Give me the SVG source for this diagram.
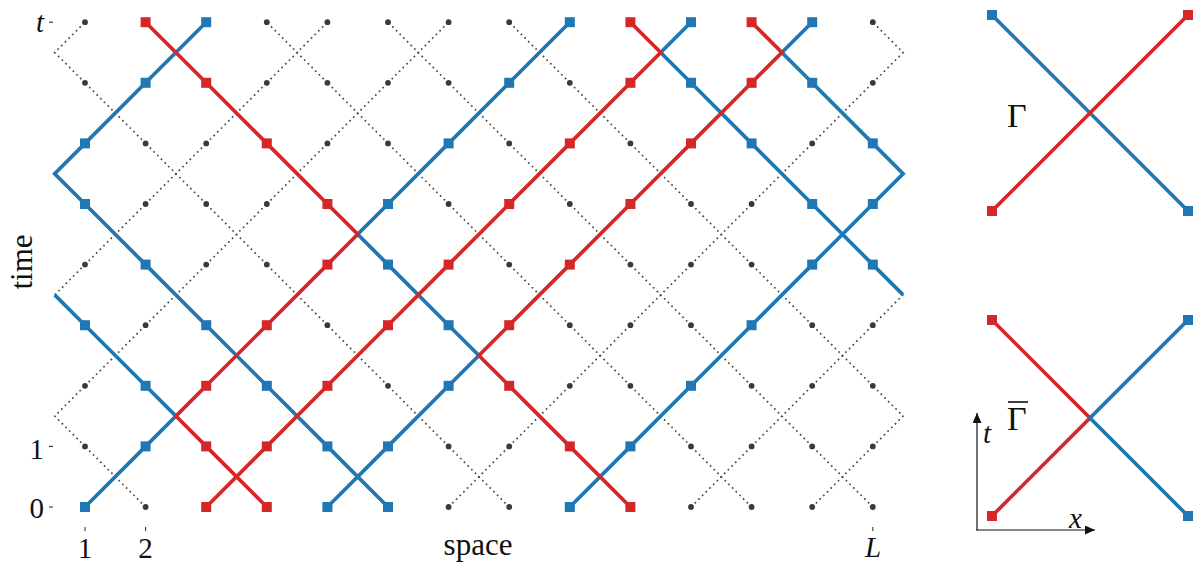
<svg xmlns="http://www.w3.org/2000/svg" xmlns:xlink="http://www.w3.org/1999/xlink" width="1195" height="567" viewBox="0 0 1195 567">
<defs>
<style>
.dot{fill:none;stroke:#4a4a4a;stroke-width:1.7;stroke-dasharray:1.7 3.5}
.bl{fill:none;stroke:#1f77b4;stroke-width:3.7}
.rd{fill:none;stroke:#d62728;stroke-width:3.7}
.ax{fill:none;stroke:#111;stroke-width:1.2}
.tk{stroke:#222;stroke-width:1}
.tx{font-family:"Liberation Serif","DejaVu Serif","Times New Roman",serif;fill:#111}
.lbl{font-size:29px}
.it{font-style:italic}
</style>
<rect id="sb" x="-5" y="-5" width="10" height="10" fill="#1f77b4"/>
<rect id="sr" x="-5" y="-5" width="10" height="10" fill="#d62728"/>
<circle id="gd" r="2.9" fill="#3a3a3a"/>
<marker id="ah" viewBox="0 0 10 9" refX="10" refY="4.5" markerWidth="10" markerHeight="9" markerUnits="userSpaceOnUse" orient="auto"><path d="M0 0L10 4.5L0 9z" fill="#111"/></marker>
</defs>
<rect width="1195" height="567" fill="#fff"/>

<g id="connectors">
<path class="dot" d="M145.6 507l-60.6-60.6M448.6 507l60.6-60.6M509.2 507l-60.6-60.6M691 507l60.6-60.6M751.6 507l-60.6-60.6M812.2 507l60.6-60.6M872.8 507l-60.6-60.6
M85 446.4l-30.3-30.3l30.3-30.3M448.6 446.4l-60.6-60.6M509.2 446.4l60.6-60.6M691 446.4l-60.6-60.6M751.6 446.4l60.6-60.6M812.2 446.4l-60.6-60.6M872.8 446.4l30.3-30.3l-30.3-30.3
M85 385.8l60.6-60.6M388 385.8l-60.6-60.6M569.8 385.8l60.6-60.6M630.4 385.8l-60.6-60.6M751.6 385.8l-60.6-60.6M812.2 385.8l60.6-60.6M872.8 385.8l-60.6-60.6
M54.7 294.9l30.3-30.3M145.6 325.2l60.6-60.6M327.4 325.2l-60.6-60.6M569.8 325.2l-60.6-60.6M630.4 325.2l60.6-60.6M691 325.2l-60.6-60.6M812.2 325.2l-60.6-60.6M872.8 325.2l30.3-30.3
M85 264.6l60.6-60.6M206.2 264.6l60.6-60.6M266.8 264.6l-60.6-60.6M509.2 264.6l-60.6-60.6M630.4 264.6l-60.6-60.6M691 264.6l60.6-60.6M751.6 264.6l-60.6-60.6
M145.6 204l60.6-60.6M206.2 204l-60.6-60.6M266.8 204l60.6-60.6M448.6 204l-60.6-60.6M569.8 204l-60.6-60.6M691 204l-60.6-60.6M751.6 204l60.6-60.6
M145.6 143.4l-60.6-60.6M206.2 143.4l60.6-60.6M327.4 143.4l60.6-60.6M388 143.4l-60.6-60.6M509.2 143.4l-60.6-60.6M630.4 143.4l-60.6-60.6M812.2 143.4l60.6-60.6
M85 82.8l-30.3-30.3l30.3-30.3M266.8 82.8l60.6-60.6M327.4 82.8l-60.6-60.6M388 82.8l60.6-60.6M448.6 82.8l-60.6-60.6M569.8 82.8l-60.6-60.6M872.8 82.8l30.3-30.3l-30.3-30.3"/>
<path class="bl" d="M85 507l60.6-60.6M327.4 507l60.6-60.6M388 507l-60.6-60.6M569.8 507l60.6-60.6
M145.6 446.4l30.3-30.3l-30.3-30.3M327.4 446.4l-60.6-60.6M388 446.4l60.6-60.6M630.4 446.4l60.6-60.6
M145.6 385.8l-60.6-60.6M266.8 385.8l-60.6-60.6M448.6 385.8l30.3-30.3l-30.3-30.3M691 385.8l60.6-60.6
M85 325.2l-30.3-30.3M206.2 325.2l-60.6-60.6M448.6 325.2l-60.6-60.6M751.6 325.2l60.6-60.6M903.1 294.9l-30.3-30.3
M145.6 264.6l-60.6-60.6M388 264.6l-30.3-30.3l30.3-30.3M812.2 264.6l60.6-60.6M872.8 264.6l-60.6-60.6
M85 204l-30.3-30.3l30.3-30.3M388 204l60.6-60.6M812.2 204l-60.6-60.6M872.8 204l30.3-30.3l-30.3-30.3
M85 143.4l60.6-60.6M448.6 143.4l60.6-60.6M751.6 143.4l-60.6-60.6M872.8 143.4l-60.6-60.6
M145.6 82.8l60.6-60.6M509.2 82.8l60.6-60.6M691 82.8l-30.3-30.3l30.3-30.3M812.2 82.8l-30.3-30.3l30.3-30.3"/>
<path class="rd" d="M206.2 507l60.6-60.6M266.8 507l-60.6-60.6M630.4 507l-60.6-60.6
M206.2 446.4l-30.3-30.3l30.3-30.3M266.8 446.4l60.6-60.6M569.8 446.4l-60.6-60.6
M206.2 385.8l60.6-60.6M327.4 385.8l60.6-60.6M509.2 385.8l-30.3-30.3l30.3-30.3
M266.8 325.2l60.6-60.6M388 325.2l60.6-60.6M509.2 325.2l60.6-60.6
M327.4 264.6l30.3-30.3l-30.3-30.3M448.6 264.6l60.6-60.6M569.8 264.6l60.6-60.6
M327.4 204l-60.6-60.6M509.2 204l60.6-60.6M630.4 204l60.6-60.6
M266.8 143.4l-60.6-60.6M569.8 143.4l60.6-60.6M691 143.4l60.6-60.6
M206.2 82.8l-60.6-60.6M630.4 82.8l30.3-30.3l-30.3-30.3M751.6 82.8l30.3-30.3l-30.3-30.3"/>
</g>

<g id="row-0">
<use xlink:href="#sb" x="85" y="507"/><use xlink:href="#gd" x="145.6" y="507"/><use xlink:href="#sr" x="206.2" y="507"/><use xlink:href="#sr" x="266.8" y="507"/><use xlink:href="#sb" x="327.4" y="507"/><use xlink:href="#sb" x="388" y="507"/><use xlink:href="#gd" x="448.6" y="507"/><use xlink:href="#gd" x="509.2" y="507"/><use xlink:href="#sb" x="569.8" y="507"/><use xlink:href="#sr" x="630.4" y="507"/><use xlink:href="#gd" x="691" y="507"/><use xlink:href="#gd" x="751.6" y="507"/><use xlink:href="#gd" x="812.2" y="507"/><use xlink:href="#gd" x="872.8" y="507"/>
</g>
<g id="row-1">
<use xlink:href="#gd" x="85" y="446.4"/><use xlink:href="#sb" x="145.6" y="446.4"/><use xlink:href="#sr" x="206.2" y="446.4"/><use xlink:href="#sr" x="266.8" y="446.4"/><use xlink:href="#sb" x="327.4" y="446.4"/><use xlink:href="#sb" x="388" y="446.4"/><use xlink:href="#gd" x="448.6" y="446.4"/><use xlink:href="#gd" x="509.2" y="446.4"/><use xlink:href="#sr" x="569.8" y="446.4"/><use xlink:href="#sb" x="630.4" y="446.4"/><use xlink:href="#gd" x="691" y="446.4"/><use xlink:href="#gd" x="751.6" y="446.4"/><use xlink:href="#gd" x="812.2" y="446.4"/><use xlink:href="#gd" x="872.8" y="446.4"/>
</g>
<g id="row-2">
<use xlink:href="#gd" x="85" y="385.8"/><use xlink:href="#sb" x="145.6" y="385.8"/><use xlink:href="#sr" x="206.2" y="385.8"/><use xlink:href="#sb" x="266.8" y="385.8"/><use xlink:href="#sr" x="327.4" y="385.8"/><use xlink:href="#gd" x="388" y="385.8"/><use xlink:href="#sb" x="448.6" y="385.8"/><use xlink:href="#sr" x="509.2" y="385.8"/><use xlink:href="#gd" x="569.8" y="385.8"/><use xlink:href="#gd" x="630.4" y="385.8"/><use xlink:href="#sb" x="691" y="385.8"/><use xlink:href="#gd" x="751.6" y="385.8"/><use xlink:href="#gd" x="812.2" y="385.8"/><use xlink:href="#gd" x="872.8" y="385.8"/>
</g>
<g id="row-3">
<use xlink:href="#sb" x="85" y="325.2"/><use xlink:href="#gd" x="145.6" y="325.2"/><use xlink:href="#sb" x="206.2" y="325.2"/><use xlink:href="#sr" x="266.8" y="325.2"/><use xlink:href="#gd" x="327.4" y="325.2"/><use xlink:href="#sr" x="388" y="325.2"/><use xlink:href="#sb" x="448.6" y="325.2"/><use xlink:href="#sr" x="509.2" y="325.2"/><use xlink:href="#gd" x="569.8" y="325.2"/><use xlink:href="#gd" x="630.4" y="325.2"/><use xlink:href="#gd" x="691" y="325.2"/><use xlink:href="#sb" x="751.6" y="325.2"/><use xlink:href="#gd" x="812.2" y="325.2"/><use xlink:href="#gd" x="872.8" y="325.2"/>
</g>
<g id="row-4">
<use xlink:href="#gd" x="85" y="264.6"/><use xlink:href="#sb" x="145.6" y="264.6"/><use xlink:href="#gd" x="206.2" y="264.6"/><use xlink:href="#gd" x="266.8" y="264.6"/><use xlink:href="#sr" x="327.4" y="264.6"/><use xlink:href="#sb" x="388" y="264.6"/><use xlink:href="#sr" x="448.6" y="264.6"/><use xlink:href="#gd" x="509.2" y="264.6"/><use xlink:href="#sr" x="569.8" y="264.6"/><use xlink:href="#gd" x="630.4" y="264.6"/><use xlink:href="#gd" x="691" y="264.6"/><use xlink:href="#gd" x="751.6" y="264.6"/><use xlink:href="#sb" x="812.2" y="264.6"/><use xlink:href="#sb" x="872.8" y="264.6"/>
</g>
<g id="row-5">
<use xlink:href="#sb" x="85" y="204"/><use xlink:href="#gd" x="145.6" y="204"/><use xlink:href="#gd" x="206.2" y="204"/><use xlink:href="#gd" x="266.8" y="204"/><use xlink:href="#sr" x="327.4" y="204"/><use xlink:href="#sb" x="388" y="204"/><use xlink:href="#gd" x="448.6" y="204"/><use xlink:href="#sr" x="509.2" y="204"/><use xlink:href="#gd" x="569.8" y="204"/><use xlink:href="#sr" x="630.4" y="204"/><use xlink:href="#gd" x="691" y="204"/><use xlink:href="#gd" x="751.6" y="204"/><use xlink:href="#sb" x="812.2" y="204"/><use xlink:href="#sb" x="872.8" y="204"/>
</g>
<g id="row-6">
<use xlink:href="#sb" x="85" y="143.4"/><use xlink:href="#gd" x="145.6" y="143.4"/><use xlink:href="#gd" x="206.2" y="143.4"/><use xlink:href="#sr" x="266.8" y="143.4"/><use xlink:href="#gd" x="327.4" y="143.4"/><use xlink:href="#gd" x="388" y="143.4"/><use xlink:href="#sb" x="448.6" y="143.4"/><use xlink:href="#gd" x="509.2" y="143.4"/><use xlink:href="#sr" x="569.8" y="143.4"/><use xlink:href="#gd" x="630.4" y="143.4"/><use xlink:href="#sr" x="691" y="143.4"/><use xlink:href="#sb" x="751.6" y="143.4"/><use xlink:href="#gd" x="812.2" y="143.4"/><use xlink:href="#sb" x="872.8" y="143.4"/>
</g>
<g id="row-7">
<use xlink:href="#gd" x="85" y="82.8"/><use xlink:href="#sb" x="145.6" y="82.8"/><use xlink:href="#sr" x="206.2" y="82.8"/><use xlink:href="#gd" x="266.8" y="82.8"/><use xlink:href="#gd" x="327.4" y="82.8"/><use xlink:href="#gd" x="388" y="82.8"/><use xlink:href="#gd" x="448.6" y="82.8"/><use xlink:href="#sb" x="509.2" y="82.8"/><use xlink:href="#gd" x="569.8" y="82.8"/><use xlink:href="#sr" x="630.4" y="82.8"/><use xlink:href="#sb" x="691" y="82.8"/><use xlink:href="#sr" x="751.6" y="82.8"/><use xlink:href="#sb" x="812.2" y="82.8"/><use xlink:href="#gd" x="872.8" y="82.8"/>
</g>
<g id="row-8">
<use xlink:href="#gd" x="85" y="22.2"/><use xlink:href="#sr" x="145.6" y="22.2"/><use xlink:href="#sb" x="206.2" y="22.2"/><use xlink:href="#gd" x="266.8" y="22.2"/><use xlink:href="#gd" x="327.4" y="22.2"/><use xlink:href="#gd" x="388" y="22.2"/><use xlink:href="#gd" x="448.6" y="22.2"/><use xlink:href="#gd" x="509.2" y="22.2"/><use xlink:href="#sb" x="569.8" y="22.2"/><use xlink:href="#sr" x="630.4" y="22.2"/><use xlink:href="#sb" x="691" y="22.2"/><use xlink:href="#sr" x="751.6" y="22.2"/><use xlink:href="#sb" x="812.2" y="22.2"/><use xlink:href="#gd" x="872.8" y="22.2"/>
</g>

<g id="axes" font-family="'Liberation Serif', 'DejaVu Serif', serif">
<path class="tk" d="M49 22.2H53M49 446.4H53M49 507H53M85 527V531M145.6 527V531M872.8 527V531"/>
<text class="tx lbl it" x="44" y="32" text-anchor="end">t</text>
<text class="tx lbl" x="44" y="459" text-anchor="end">1</text>
<text class="tx lbl" x="44" y="518" text-anchor="end">0</text>
<text class="tx lbl" x="85" y="558" text-anchor="middle">1</text>
<text class="tx lbl" x="145.6" y="558" text-anchor="middle">2</text>
<text class="tx lbl it" x="873" y="557" text-anchor="middle">L</text>
<text class="tx" font-size="31" transform="translate(32 262) rotate(-90)" text-anchor="middle">time</text>
<text class="tx" font-size="31" x="478" y="555" text-anchor="middle">space</text>
</g>

<g id="gate-gamma" font-family="'Liberation Serif', 'DejaVu Serif', serif">
<path class="bl" d="M992 15L1188 211"/>
<path class="rd" d="M992 211L1188 15"/>
<use xlink:href="#sb" x="992" y="15"/><use xlink:href="#sr" x="1188" y="15"/><use xlink:href="#sr" x="992" y="211"/><use xlink:href="#sb" x="1188" y="211"/>
<text class="tx" font-size="34" x="1007" y="127">Γ</text>
</g>
<g id="gate-gammabar" font-family="'Liberation Serif', 'DejaVu Serif', serif">
<path class="rd" d="M992 320L1090 418L992 516"/>
<path class="bl" d="M1188 320L1090 418L1188 516"/>
<use xlink:href="#sr" x="992" y="320"/><use xlink:href="#sb" x="1188" y="320"/><use xlink:href="#sr" x="992" y="516"/><use xlink:href="#sb" x="1188" y="516"/>
<text class="tx" font-size="34" x="1007" y="430">Γ</text>
<line x1="1008" y1="402" x2="1028" y2="402" stroke="#111" stroke-width="1.6"/>
</g>
<g id="tx-axes" font-family="'Liberation Serif', 'DejaVu Serif', serif">
<line class="ax" x1="977" y1="530.5" x2="977" y2="413" marker-end="url(#ah)"/>
<line class="ax" x1="976.4" y1="530" x2="1095" y2="530" marker-end="url(#ah)"/>
<text class="tx lbl it" x="983" y="443">t</text>
<text class="tx lbl it" x="1069" y="528">x</text>
</g>
</svg>
